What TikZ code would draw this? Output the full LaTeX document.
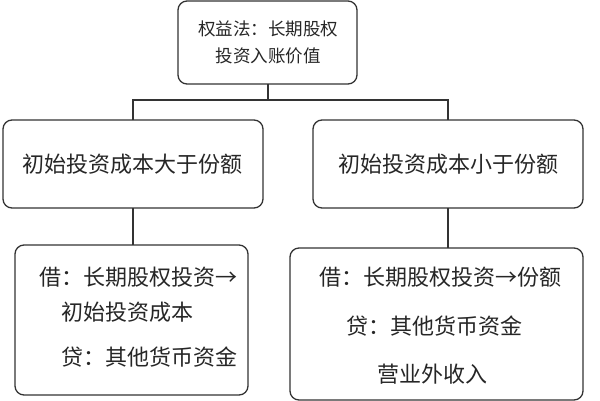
\documentclass[tikz,border=0pt]{standalone}
\usepackage{fontspec}
\setmainfont{Noto Sans CJK SC}
\begin{document}
\begin{tikzpicture}[x=1pt,y=-1pt,
  box/.style={draw=black!80,line width=1.3pt,rounded corners=9pt,inner sep=0pt},
  txt/.style={font=\fontsize{17.5}{27}\selectfont,align=left,text=black!85},
  big/.style={font=\fontsize{22}{27}\selectfont,text=black!85},
  ln/.style={draw=black!80,line width=1.3pt}]
\useasboundingbox (0,0) rectangle (600,400);
\draw[box] (178,1) rectangle (357,84);
\node[txt,align=center] (top) at (268,42) {权益法：长期股权\\投资入账价值};
\draw[box] (3,120) rectangle (263,208);
\node[big] (ml) at (133,164) {初始投资成本大于份额};
\draw[box] (313,120) rectangle (583,208);
\node[big] (mr) at (448,164) {初始投资成本小于份额};
\draw[box] (15,245) rectangle (248,395);
\node[big,anchor=west] (bl1) at (36,277) {借：长期股权投资→};
\node[big,anchor=west] (bl2) at (58,312) {初始投资成本};
\node[big,anchor=west] (bl3) at (58,357) {贷：其他货币资金};
\draw[box] (290,248) rectangle (583,400);
\node[big,anchor=west] (br1) at (316,277) {借：长期股权投资→份额};
\node[big,anchor=west] (br2) at (343,326) {贷：其他货币资金};
\node[big,anchor=west] (br3) at (374,374) {营业外收入};
\coordinate (t) at (268,84);
\coordinate (j) at (268,100);
\draw[ln] (t) -- (j);
\draw[ln] (133,120) -- (133,100) -- (448,100) -- (448,120);
\draw[ln] (133,208) -- (133,245);
\draw[ln] (448,208) -- (448,248);
\end{tikzpicture}
\end{document}
